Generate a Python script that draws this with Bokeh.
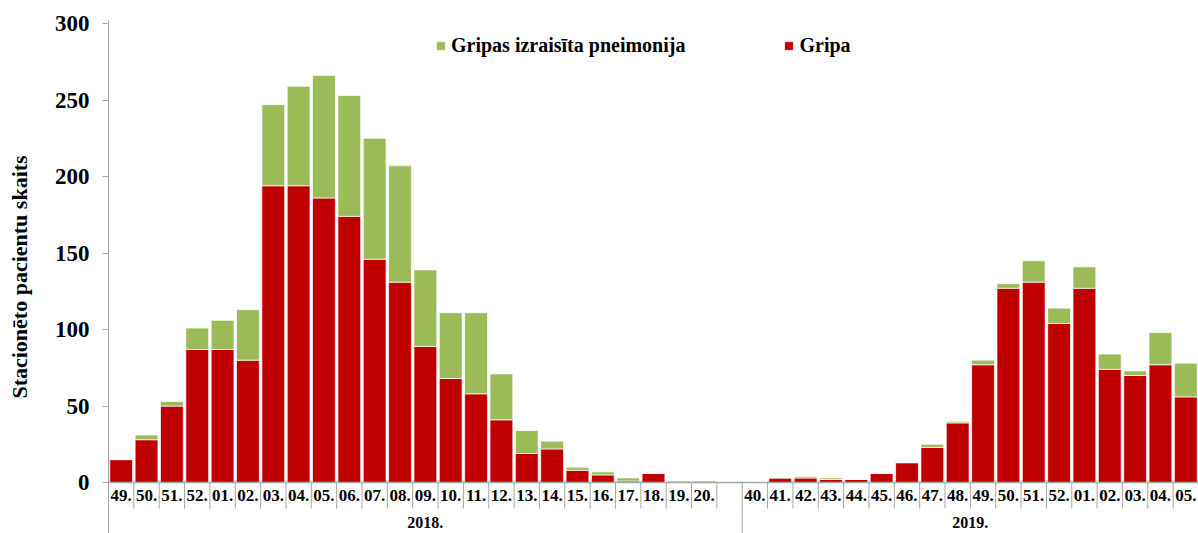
from bokeh.plotting import figure
from bokeh.models import ColumnDataSource, Legend, LegendItem, FixedTicker, Range1d
from bokeh.core.properties import value
from bokeh.embed import file_html
from bokeh.resources import INLINE

# ---- data ----
weeks_2018 = ["49.", "50.", "51.", "52.", "01.", "02.", "03.", "04.", "05.", "06.",
              "07.", "08.", "09.", "10.", "11.", "12.", "13.", "14.", "15.", "16.",
              "17.", "18.", "19.", "20.", ""]
gripa_2018 = [15, 28, 50, 87, 87, 80, 194, 194, 186, 174,
              146, 131, 89, 68, 58, 41, 19, 22, 8, 5,
              1, 6, 1, 0, 0]
pneim_2018 = [0, 3, 3, 14, 19, 33, 53, 65, 80, 79,
              79, 76, 50, 43, 53, 30, 15, 5, 2, 2,
              2, 0, 0, 1, 0]

weeks_2019 = ["40.", "41.", "42.", "43.", "44.", "45.", "46.", "47.", "48.", "49.",
              "50.", "51.", "52.", "01.", "02.", "03.", "04.", "05."]
gripa_2019 = [0, 3, 3, 2, 2, 6, 13, 23, 39, 77,
              127, 131, 104, 127, 74, 70, 77, 56]
pneim_2019 = [0, 0, 1, 1, 0, 0, 0, 2, 1, 3,
              3, 14, 10, 14, 10, 3, 21, 22]

years = ["2018.", "2019."]
series_names = ["Gripas izraisīta pneimonija", "Gripa"]
y_ticks = [0, 50, 100, 150, 200, 250, 300]

RED = "#C00000"
GREEN = "#9BBB59"
GREY = "#A6A6A6"
FONT = "'Liberation Serif'"

weeks = weeks_2018 + weeks_2019
gripa = gripa_2018 + gripa_2019
pneim = pneim_2018 + pneim_2019
n = len(weeks)
xs = [i + 0.5 for i in range(n)]

src = ColumnDataSource(dict(x=xs, gripa=gripa, pneim=pneim, week=weeks))

Y_BOTTOM = -33.3
p = figure(width=1198, height=533, output_backend="svg", toolbar_location=None,
           x_range=Range1d(0, n), y_range=Range1d(Y_BOTTOM, 302),
           x_axis_location=None, min_border_left=108, min_border_top=20,
           min_border_bottom=0, min_border_right=0)
p.outline_line_color = None
p.grid.visible = False

rs = p.vbar_stack(["gripa", "pneim"], x="x", width=0.9, source=src,
                  color=[RED, GREEN], line_color="white", line_width=1, line_alpha=0.7)

# y axis
ax = p.yaxis[0]
ax.ticker = FixedTicker(ticks=y_ticks)
ax.axis_line_color = GREY
ax.major_tick_line_color = GREY
ax.major_tick_out = 6
ax.major_tick_in = 0
ax.minor_tick_line_color = None
ax.major_label_standoff = 13
ax.major_label_text_font = FONT
ax.major_label_text_font_style = "bold"
ax.major_label_text_font_size = "23px"
ax.major_label_text_color = "black"
ax.axis_label = "Stacionēto pacientu skaits"
ax.axis_label_text_font = FONT
ax.axis_label_text_font_style = "bold"
ax.axis_label_text_font_size = "22px"
ax.axis_label_text_color = "black"
ax.axis_label_standoff = 20

# x baseline
p.segment(x0=[0], y0=[0], x1=[n], y1=[0], line_color=GREY, line_width=1.5)

# category dividers
n18 = len(weeks_2018)
bx = list(range(0, n + 1))
long_b = [0, n18]
short_b = [b for b in bx if b not in long_b]
p.segment(x0=short_b, y0=[0] * len(short_b), x1=short_b, y1=[-17] * len(short_b),
          line_color=GREY, line_width=1)
p.segment(x0=long_b, y0=[0] * len(long_b), x1=long_b, y1=[Y_BOTTOM] * len(long_b),
          line_color=GREY, line_width=1)

# week labels
p.text(x="x", y=-8.5, text="week", source=src, text_font=value(FONT),
       text_font_style="bold", text_font_size="17px", text_align="center",
       text_baseline="middle", text_color="black")

# year labels
yc = [n18 / 2, n18 + (n - n18) / 2]
p.text(x=yc, y=[-26.3, -26.3], text=years, text_font=value(FONT),
       text_font_style="bold", text_font_size="16px", text_align="center",
       text_baseline="middle", text_color="black")

legend = Legend(items=[LegendItem(label=series_names[0], renderers=[rs[1]]),
                       LegendItem(label=series_names[1], renderers=[rs[0]])],
                orientation="horizontal", location=(327, 476),
                padding=0, margin=0, spacing=98, label_standoff=5,
                glyph_width=11, glyph_height=11,
                border_line_color=None, background_fill_alpha=0)
legend.label_text_font = FONT
legend.label_text_font_style = "bold"
legend.label_text_font_size = "20px"
legend.label_text_color = "black"
p.add_layout(legend)

open("out.html", "w").write(file_html(p, INLINE))
